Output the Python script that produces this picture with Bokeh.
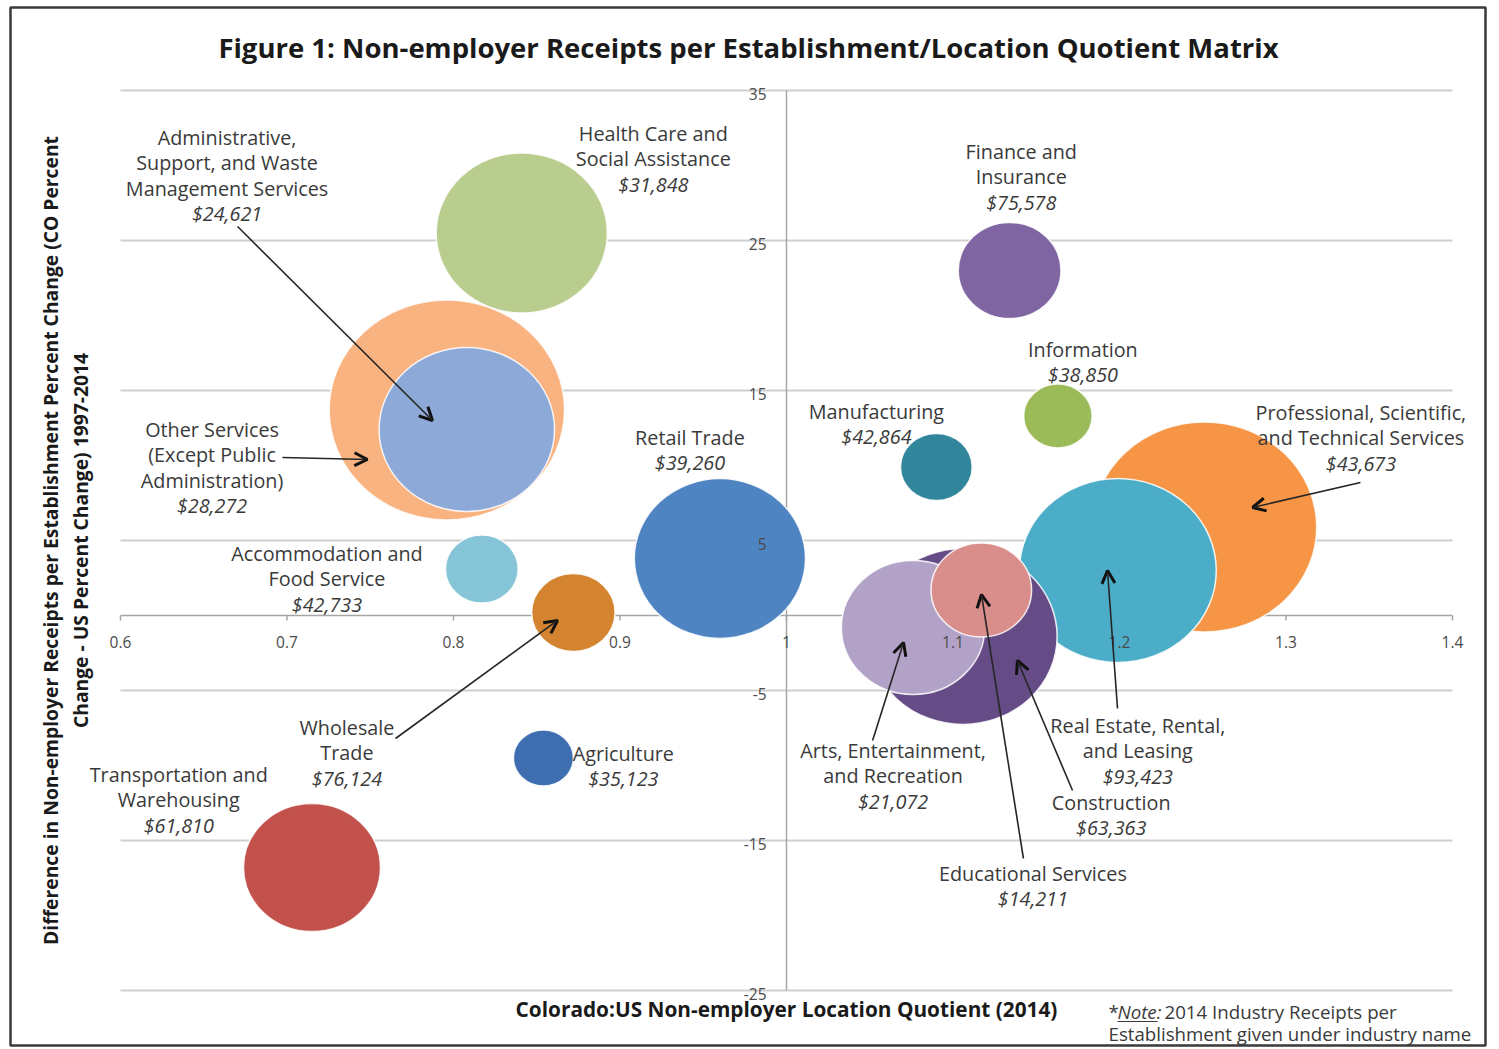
import math
from bokeh.plotting import figure
from bokeh.models import ColumnDataSource, Range1d, Arrow, OpenHead
from bokeh.core.properties import value
from bokeh.embed import file_html
from bokeh.resources import INLINE

# ---------------- data ----------------
industries = [
    "Health Care and Social Assistance",
    "Other Services (Except Public Administration)",
    "Administrative, Support, and Waste Management Services",
    "Accommodation and Food Service",
    "Wholesale Trade",
    "Retail Trade",
    "Agriculture",
    "Transportation and Warehousing",
    "Finance and Insurance",
    "Information",
    "Manufacturing",
    "Professional, Scientific, and Technical Services",
    "Real Estate, Rental, and Leasing",
    "Construction",
    "Arts, Entertainment, and Recreation",
    "Educational Services",
]
location_quotient = [0.841, 0.796, 0.808, 0.817, 0.872, 0.960, 0.854, 0.715,
                     1.134, 1.163, 1.090, 1.251, 1.199, 1.106, 1.076, 1.117]
pct_change_diff = [25.5, 13.7, 12.4, 3.1, 0.2, 3.8, -9.5, -16.8,
                   23.0, 13.3, 9.9, 5.9, 3.0, -1.4, -0.8, 1.7]
bubble_size = [80, 110, 82, 34, 39, 80, 28, 64,
               48, 32, 33.5, 105, 92, 88, 67, 47]
receipts = [31848, 28272, 24621, 42733, 76124, 39260, 35123, 61810,
            75578, 38850, 42864, 43673, 93423, 63363, 21072, 14211]
label_lines = [
    ["Health Care and", "Social Assistance"],
    ["Other Services", "(Except Public", "Administration)"],
    ["Administrative,", "Support, and Waste", "Management Services"],
    ["Accommodation and", "Food Service"],
    ["Wholesale", "Trade"],
    ["Retail Trade"],
    ["Agriculture"],
    ["Transportation and", "Warehousing"],
    ["Finance and", "Insurance"],
    ["Information"],
    ["Manufacturing"],
    ["Professional, Scientific,", "and Technical Services"],
    ["Real Estate, Rental,", "and Leasing"],
    ["Construction"],
    ["Arts, Entertainment,", "and Recreation"],
    ["Educational Services"],
]
colors = ["#B9CD8E", "#F9B380", "#8CA9D8", "#86C4D8", "#D4842F", "#4F84C2",
          "#3E6DB0", "#C2514C", "#8065A3", "#9BBB59", "#31869B", "#F69546",
          "#4BADC7", "#664C86", "#B3A2C8", "#D98E8B"]

x_ticks = [0.6, 0.7, 0.8, 0.9, 1.0, 1.1, 1.2, 1.3, 1.4]
x_tick_labels = ["0.6", "0.7", "0.8", "0.9", "1", "1.1", "1.2", "1.3", "1.4"]
y_ticks = [35, 25, 15, 5, -5, -15, -25]
y_tick_labels = ["35", "25", "15", "5", "-5", "-15", "-25"]

# label anchor (centre x, first line y) in data units
label_x = [0.920, 0.655, 0.664, 0.724, 0.736, 0.942, 0.902, 0.635,
           1.141, 1.178, 1.054, 1.345, 1.211, 1.195, 1.064, 1.148]
label_y = [32.13, 12.4, 31.87, 4.13, -7.47, 11.87, -9.2, -10.6,
           30.93, 17.73, 13.6, 13.53, -7.33, -12.47, -9.0, -17.2]

# arrows: (industry index, x_start, y_start, x_end, y_end)
arrows = [
    (2, 0.6703, 25.93, 0.7874, 13.0),
    (1, 0.6973, 10.53, 0.7483, 10.4),
    (4, 0.7652, -8.2, 0.8625, -0.33),
    (11, 1.3447, 8.87, 1.2799, 7.2),
    (12, 1.1988, -6.2, 1.1928, 3.0),
    (14, 1.0517, -8.33, 1.0703, -1.8),
    (15, 1.1423, -16.2, 1.1171, 1.4),
    (13, 1.1718, -11.67, 1.1387, -3.0),
]

# ---------------- layout ----------------
W, H = 1499, 1049
FL, FT, FR, FB = 10, 7, 1485, 1045      # frame (outer border) in px
XPX, YPX = 1665.0, 15.0                 # px per data unit
x_lo = 0.6 - (120 - FL) / XPX
x_hi = x_lo + (FR - FL) / XPX
y_hi = 35 + (90 - FT) / YPX
y_lo = y_hi - (FB - FT) / YPX

def dx(px):
    return px / XPX

def dy(px):
    return px / YPX

FONT = value("Open Sans")
TXT = "#3a3a3a"

p = figure(width=W, height=H, x_range=Range1d(x_lo, x_hi), y_range=Range1d(y_lo, y_hi),
           x_axis_type=None, y_axis_type=None, toolbar_location=None,
           output_backend="svg", min_border_left=FL, min_border_top=FT,
           min_border_right=W - FR, min_border_bottom=H - FB)
p.outline_line_color = "#3a3a3a"
p.outline_line_width = 2.5
p.background_fill_color = "white"
p.border_fill_color = "white"
p.xgrid.visible = False
p.ygrid.visible = False

# grid lines
p.segment(x0=[0.6] * len(y_ticks), x1=[1.4] * len(y_ticks), y0=y_ticks, y1=y_ticks,
          line_color="#CFCFCF", line_width=2)
# axes
p.segment(x0=[1.0], x1=[1.0], y0=[-25], y1=[35], line_color="#A6A6A6", line_width=1.5)
p.segment(x0=[0.6], x1=[1.4], y0=[0], y1=[0], line_color="#A6A6A6", line_width=1.5)
p.segment(x0=x_ticks, x1=x_ticks, y0=[0] * len(x_ticks), y1=[-dy(5)] * len(x_ticks),
          line_color="#A6A6A6", line_width=1.5)

# bubbles
bsrc = ColumnDataSource(dict(
    x=location_quotient, y=pct_change_diff,
    w=[2 * 1.07 * s for s in bubble_size], h=[2 * s for s in bubble_size],
    c=colors))
p.ellipse(x="x", y="y", width="w", height="h", width_units="screen", height_units="screen",
          source=bsrc, fill_color="c", line_color="white", line_width=1.5, line_alpha=0.85)

# tick labels
p.text(x=[1.0 - dx(20)] * len(y_ticks), y=[t - dy(3) for t in y_ticks], text=y_tick_labels,
       text_font=FONT, text_font_size="15.5px", text_color="#4a4a4a", text_align="right",
       text_baseline="middle")
p.text(x=x_ticks, y=[-dy(26)] * len(x_ticks), text=x_tick_labels,
       text_font=FONT, text_font_size="15.5px", text_color="#4a4a4a", text_align="center",
       text_baseline="middle")

# bubble labels
LS = dy(25.3)
lx, ly, lt, lst = [], [], [], []
for i, lines in enumerate(label_lines):
    for k, ln in enumerate(lines):
        lx.append(label_x[i]); ly.append(label_y[i] - k * LS); lt.append(ln); lst.append("normal")
    lx.append(label_x[i]); ly.append(label_y[i] - len(lines) * LS)
    lt.append("${:,}".format(receipts[i])); lst.append("italic")
lsrc = ColumnDataSource(dict(x=lx, y=ly, t=lt, fs=lst))
p.text(x="x", y="y", text="t", text_font_style="fs", source=lsrc, text_font=FONT,
       text_font_size="19.8px", text_color=TXT, text_align="center", text_baseline="middle")

# arrows
asrc = ColumnDataSource(dict(xs=[a[1] for a in arrows], ys=[a[2] for a in arrows],
                             xe=[a[3] for a in arrows], ye=[a[4] for a in arrows]))
p.add_layout(Arrow(source=asrc, x_start="xs", y_start="ys", x_end="xe", y_end="ye",
                   line_color="#262626", line_width=1.6,
                   end=OpenHead(size=13, line_width=3, line_color="#111111")))

# titles
p.text(x=[0.6 + dx(628)], y=[35 + dy(43)], text=["Figure 1: Non-employer Receipts per Establishment/Location Quotient Matrix"],
       text_font=FONT, text_font_size="27.5px", text_font_style="bold", text_color="#1a1a1a",
       text_align="center", text_baseline="middle")
p.text(x=[1.0], y=[-25 - dy(18)], text=["Colorado:US Non-employer Location Quotient (2014)"],
       text_font=FONT, text_font_size="20.8px", text_font_style="bold", text_color="#1a1a1a",
       text_align="center", text_baseline="middle")
p.text(x=[0.6 - dx(70), 0.6 - dx(40)], y=[5.0, 5.0],
       text=["Difference in Non-employer Receipts per Establishment Percent Change (CO Percent",
             "Change - US Percent Change) 1997-2014"],
       angle=math.pi / 2, text_font=FONT, text_font_size="19.3px", text_font_style="bold",
       text_color="#1a1a1a", text_align="center", text_baseline="middle")

# note
nx = 0.6 + dx(988)
NFS = "18.7px"
p.text(x=[nx], y=[-25 - dy(21)], text=["*"], text_font=FONT, text_font_size=NFS,
       text_color=TXT, text_align="left", text_baseline="middle")
p.text(x=[nx + dx(9)], y=[-25 - dy(21)], text=["Note:"], text_font=FONT, text_font_size=NFS,
       text_font_style="italic", text_color=TXT, text_align="left", text_baseline="middle")
p.segment(x0=[nx + dx(9)], x1=[nx + dx(49)], y0=[-25 - dy(31)], y1=[-25 - dy(31)],
          line_color=TXT, line_width=1)
p.text(x=[nx + dx(56)], y=[-25 - dy(21)], text=["2014 Industry Receipts per"], text_font=FONT,
       text_font_size=NFS, text_color=TXT, text_align="left", text_baseline="middle")
p.text(x=[nx], y=[-25 - dy(43)], text=["Establishment given under industry name"], text_font=FONT,
       text_font_size=NFS, text_color=TXT, text_align="left", text_baseline="middle")

open("out.html", "w").write(file_html(p, INLINE))
